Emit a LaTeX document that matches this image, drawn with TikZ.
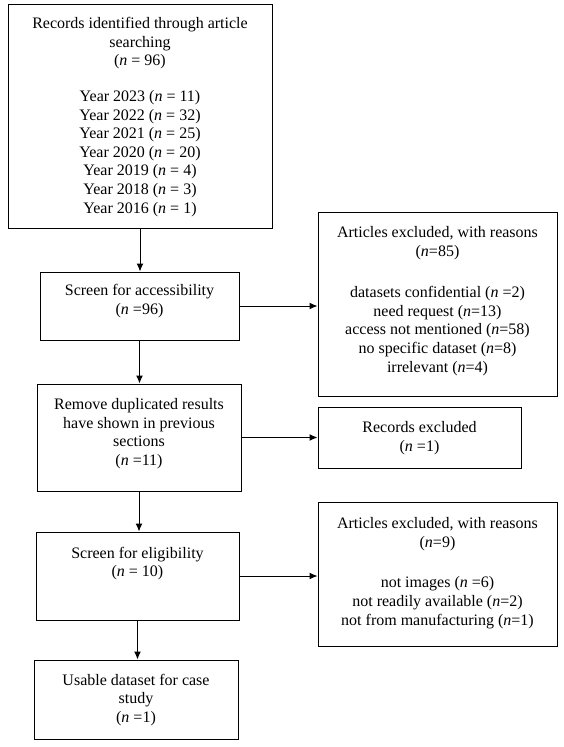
\documentclass[tikz,border=0pt]{standalone}
\usepackage{fontspec}
\setmainfont{Liberation Serif}
\usetikzlibrary{arrows.meta}
\begin{document}
\begin{tikzpicture}[x=1pt,y=-1pt,
  boxnode/.style={draw,line width=1pt,rectangle,inner sep=0pt},
  txt/.style={align=center,inner sep=0pt,font=\fontsize{16}{18.6}\selectfont},
  arr/.style={line width=1pt,-{Latex[length=8pt,width=7pt]}}]
\useasboundingbox (0,0) rectangle (563,747);
% boxes
\node[boxnode,minimum width=264pt,minimum height=224pt] (b1) at (140,116) {};
\node[boxnode,minimum width=199pt,minimum height=68pt] (b2) at (139.5,306) {};
\node[boxnode,minimum width=204pt,minimum height=107pt] (b3) at (139,437.5) {};
\node[boxnode,minimum width=203pt,minimum height=88pt] (b4) at (137.5,576) {};
\node[boxnode,minimum width=204pt,minimum height=79pt] (b5) at (136,699.5) {};
\node[boxnode,minimum width=239pt,minimum height=184pt] (e1) at (437.5,304) {};
\node[boxnode,minimum width=203pt,minimum height=61pt] (e2) at (419.5,437.5) {};
\node[boxnode,minimum width=239pt,minimum height=144pt] (e3) at (437.5,574) {};
% texts
\node[txt] (t1) at (140,117) {Records identified through article\\searching\\(\textit{n} = 96)\\[17pt]
Year 2023 (\textit{n} = 11)\\Year 2022 (\textit{n} = 32)\\Year 2021 (\textit{n} = 25)\\Year 2020 (\textit{n} = 20)\\Year 2019 (\textit{n} = 4)\\Year 2018 (\textit{n} = 3)\\Year 2016 (\textit{n} = 1)};
\node[txt] (t2) at (139.5,301) {Screen for accessibility\\(\textit{n} =96)};
\node[txt] (t3) at (139,433.5) {Remove duplicated results\\have shown in previous\\sections\\(\textit{n} =11)};
\node[txt] (t4) at (137.5,563.5) {Screen for eligibility\\(\textit{n} = 10)};
\node[txt] (t5) at (136,700) {Usable dataset for case\\study\\(\textit{n} =1)};
\node[txt] (te1) at (437.5,301) {Articles excluded, with reasons\\(\textit{n}=85)\\[23pt]
datasets confidential (\textit{n} =2)\\need request (\textit{n}=13)\\access not mentioned (\textit{n}=58)\\no specific dataset (\textit{n}=8)\\irrelevant (\textit{n}=4)};
\node[txt] (te2) at (419.5,438) {Records excluded\\(\textit{n} =1)};
\node[txt] (te3) at (437.5,573) {Articles excluded, with reasons\\(\textit{n}=9)\\[22pt]
not images (\textit{n} =6)\\not readily available (\textit{n}=2)\\not from manufacturing (\textit{n}=1)};
% arrows
\draw[arr] (b1.south) -- (b1.south |- b2.north);
\draw[arr] (b2.south) -- (b2.south |- b3.north);
\draw[arr] (b3.south) -- (b3.south |- b4.north);
\draw[arr] (b4.south) -- (b4.south |- b5.north);
\draw[arr] (b2.east) -- (b2.east -| e1.west);
\draw[arr] (b3.east) -- (b3.east -| e2.west);
\draw[arr] (b4.east) -- (b4.east -| e3.west);
\end{tikzpicture}
\end{document}
